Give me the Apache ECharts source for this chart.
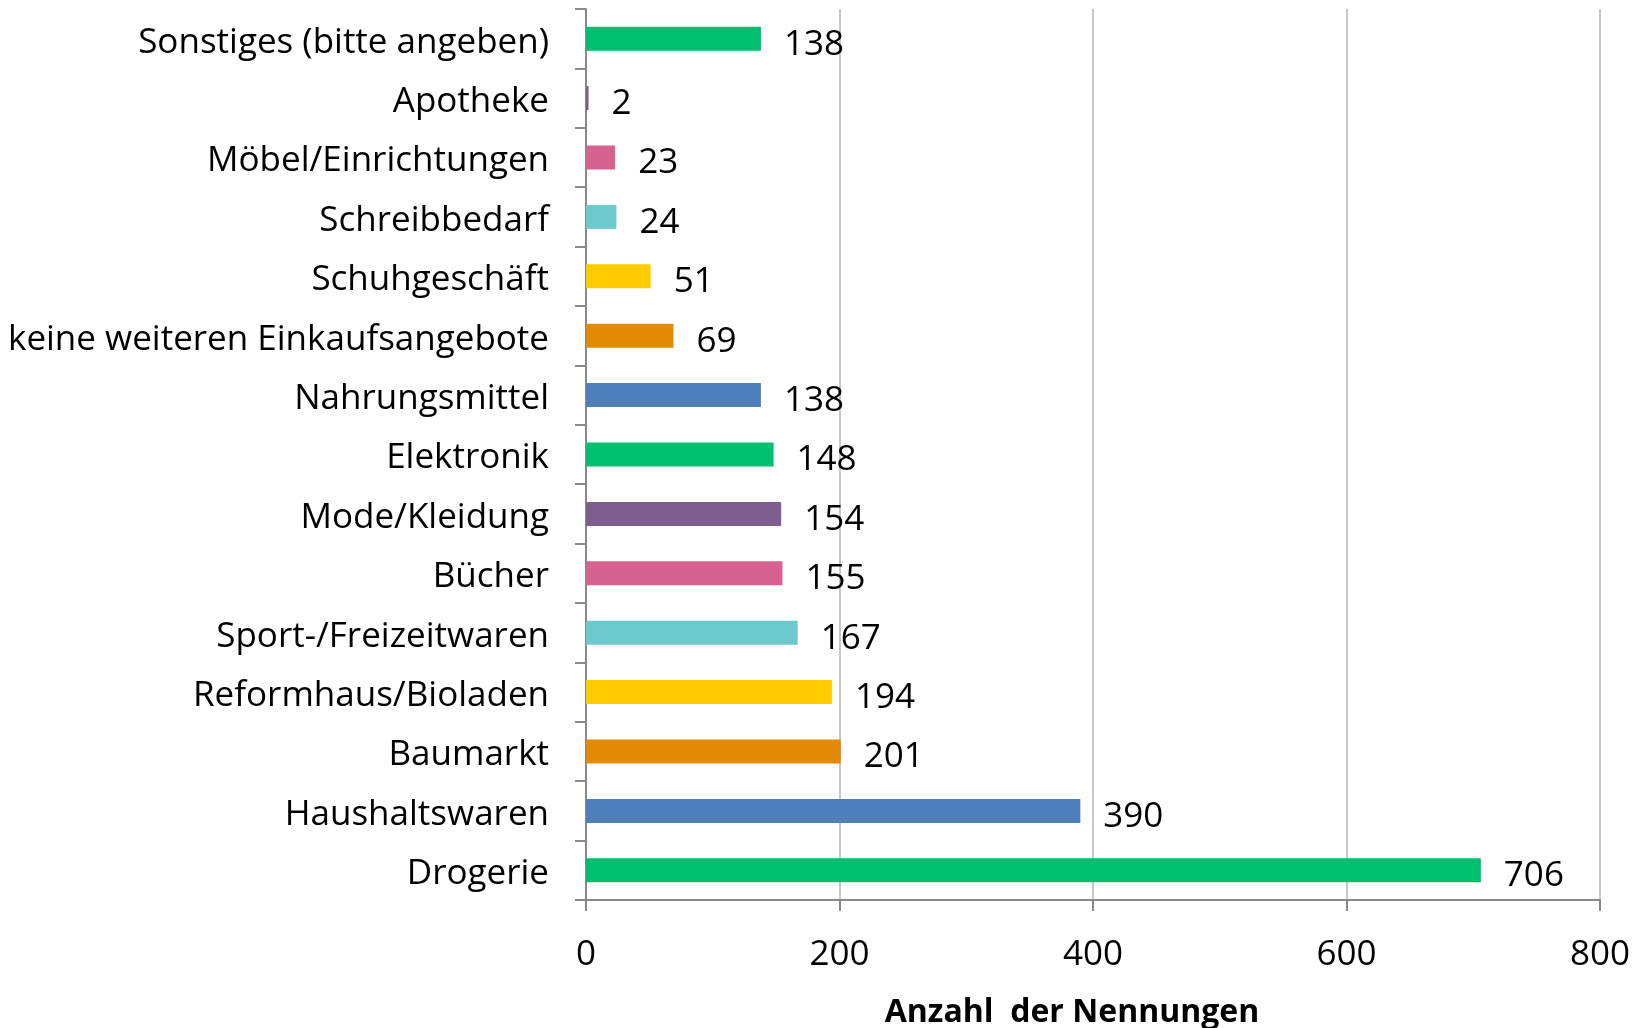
<!DOCTYPE html>
<html>
<head>
<meta charset="utf-8">
<script src="https://cdn.jsdelivr.net/npm/echarts@6/dist/echarts.min.js"></script>
<style>
  html, body { margin: 0; padding: 0; background: #fff; }
  #main { width: 1646px; height: 1028px; }
</style>
</head>
<body>
<div id="main"></div>
<script>
// Kategorien von unten nach oben
const categories = [
  'Drogerie',
  'Haushaltswaren',
  'Baumarkt',
  'Reformhaus/Bioladen',
  'Sport-/Freizeitwaren',
  'Bücher',
  'Mode/Kleidung',
  'Elektronik',
  'Nahrungsmittel',
  'keine weiteren Einkaufsangebote',
  'Schuhgeschäft',
  'Schreibbedarf',
  'Möbel/Einrichtungen',
  'Apotheke',
  'Sonstiges (bitte angeben)'
]
const values = [706, 390, 201, 194, 167, 155, 154, 148, 138, 69, 51, 24, 23, 2, 138]
const xTicks = [0, 200, 400, 600, 800]
const palette = ['#00BF6F', '#4F7FBA', '#E28A06', '#FFCC00', '#6CC9CC', '#D66292', '#7E5E8E']

const font = '"Open Sans", "Noto Sans", sans-serif'
const myChart = echarts.init(document.getElementById('main'))

const option = {
  animation: false,
  backgroundColor: '#fff',
  grid: {
    left: 586,
    right: 46,
    top: 9,
    bottom: 128,
    containLabel: false,
    outerBoundsMode: 'none'
  },
  xAxis: {
    type: 'value',
    min: xTicks[0],
    max: xTicks[xTicks.length - 1],
    interval: xTicks[1] - xTicks[0],
    name: 'Anzahl  der Nennungen',
    nameLocation: 'middle',
    nameGap: 97,
    nameTextStyle: {
      fontFamily: font,
      fontSize: 32,
      fontWeight: 'bold',
      color: '#000',
      padding: [0, 42, 0, 0]
    },
    axisLine: { show: true, lineStyle: { color: '#898989', width: 2 } },
    axisTick: { show: true, length: 11, lineStyle: { color: '#898989', width: 2 } },
    axisLabel: {
      margin: 38,
      fontFamily: font,
      fontSize: 35,
      color: '#000'
    },
    splitLine: { show: true, lineStyle: { color: '#C8C8C8', width: 2 } }
  },
  yAxis: {
    type: 'category',
    data: categories,
    axisLine: { show: true, lineStyle: { color: '#898989', width: 2 } },
    axisTick: { show: true, length: 11, lineStyle: { color: '#898989', width: 2 } },
    axisLabel: {
      margin: 37,
      formatter: (v) => '{c|' + v + '}',
      rich: {
        c: {
          padding: [8, 0, 0, 0],
          fontFamily: font,
          fontSize: 35,
          color: '#000'
        }
      }
    },
    splitLine: { show: false }
  },
  series: [
    {
      type: 'bar',
      data: values,
      barWidth: 24,
      itemStyle: {
        color: (p) => palette[p.dataIndex % palette.length]
      },
      label: {
        show: true,
        position: 'right',
        distance: 23,
        offset: [0, 6],
        fontFamily: font,
        fontSize: 35,
        color: '#000'
      }
    }
  ]
}
myChart.setOption(option)
</script>
</body>
</html>
